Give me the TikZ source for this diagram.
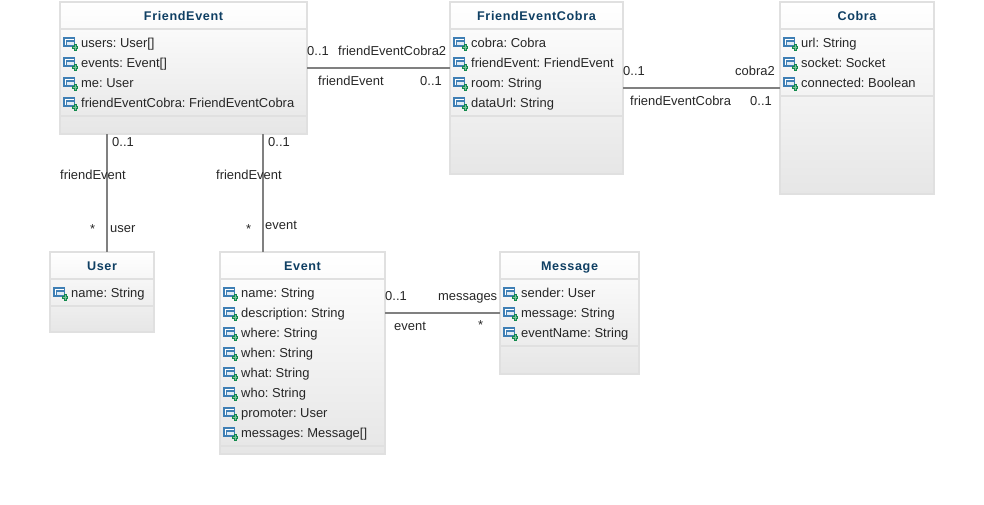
\documentclass[tikz,border=0pt]{standalone}
\usepackage{fontspec}
\setmainfont{Liberation Sans}
\newfontfamily\titlefont[LetterSpace=5]{Liberation Sans}
\definecolor{boxline}{HTML}{E0E0E0}
\definecolor{boxlow}{HTML}{E6E6E6}
\definecolor{titleblue}{HTML}{0F3F63}
\definecolor{iconblue}{HTML}{3F7FB5}
\definecolor{icongreen}{HTML}{128A4C}
\definecolor{assocline}{HTML}{808080}
\tikzset{
  classbox/.style={draw=boxline,line width=2pt,anchor=north west,inner sep=0pt,outer sep=0pt,top color=white,bottom color=boxlow},
  classtitle/.style={font=\titlefont\fontsize{12.6}{14}\selectfont\bfseries,text=titleblue,inner sep=0pt,anchor=base},
  attr/.style={font=\frenchspacing\fontsize{12.95}{14}\selectfont,anchor=base west,inner sep=0pt,text=black!85},
  assoc/.style={font=\fontsize{12.95}{14}\selectfont,anchor=base west,inner sep=0pt,text=black!85},
  divider/.style={draw=boxline,line width=2pt},
  link/.style={draw=assocline,line width=2pt},
  attricon/.pic={
    \draw[iconblue,fill=white,line width=1.2pt] (-7,-5) rectangle (3.5,3);
    \draw[iconblue,fill=iconblue!15,line width=1.2pt] (-4.5,-2) rectangle (3.5,3);
    \draw[icongreen,line width=3pt] (4,1) -- (4,7.5) (0.75,4.25) -- (7.25,4.25);
    \draw[icongreen!55,line width=1pt] (4,2) -- (4,6.5) (1.75,4.25) -- (6.25,4.25);
  }
}
% id, x, y, width, height, y of second divider, title, attributes
\newcommand{\umlclass}[8]{
  \node[classbox,minimum width=#4pt,minimum height=#5pt] (#1) at (#2,#3) {};
  \draw[divider] (#2,#3+27) -- ++(#4,0);
  \draw[divider] (#2,#6) -- ++(#4,0);
  \node[classtitle] (#1-title) at (#2+#4/2,#3+18.5) {#7};
  \foreach \attrtext [count=\i] in {#8} {
    \pic at (#2+11,#3+21+20*\i) {attricon};
    \node[attr] (#1-\i) at (#2+21,#3+25+20*\i) {\attrtext};
  }
}
\begin{document}
\begin{tikzpicture}[x=1pt,y=-1pt]
  \useasboundingbox (0,0) rectangle (984,504);

  \umlclass{friendEvent}{60}{2}{247}{132}{116}{FriendEvent}{users: User[],events: Event[],me: User,friendEventCobra: FriendEventCobra}
  \umlclass{friendEventCobra}{450}{2}{173}{172}{116}{FriendEventCobra}{cobra: Cobra,friendEvent: FriendEvent,room: String,dataUrl: String}
  \umlclass{cobra}{780}{2}{154}{192}{96}{Cobra}{url: String,socket: Socket,connected: Boolean}
  \umlclass{user}{50}{252}{104}{80}{306}{User}{name: String}
  \umlclass{event}{220}{252}{165}{202}{446}{Event}{name: String,description: String,where: String,when: String,what: String,who: String,promoter: User,messages: Message[]}
  \umlclass{message}{500}{252}{139}{122}{346}{Message}{sender: User,message: String,eventName: String}

  \draw[link] (friendEvent.east) -- (friendEventCobra.west |- friendEvent.east);
  \draw[link] (friendEventCobra.east) -- (cobra.west |- friendEventCobra.east);
  \draw[link] ([xshift=47pt]friendEvent.south west) -- ([xshift=57pt]user.north west);
  \draw[link] ([xshift=203pt]friendEvent.south west) -- ([xshift=43pt]event.north west);
  \draw[link] (event.east |- message.west) -- (message.west);

  \node[assoc] (lblA) at (307,55) {0..1};
  \node[assoc] (lblB) at (338,55) {friendEventCobra2};
  \node[assoc] (lblC) at (318,85) {friendEvent};
  \node[assoc] (lblD) at (420,85) {0..1};
  \node[assoc] (lblE) at (623,75) {0..1};
  \node[assoc] (lblF) at (735,75) {cobra2};
  \node[assoc] (lblG) at (630,105) {friendEventCobra};
  \node[assoc] (lblH) at (750,105) {0..1};
  \node[assoc] (lblI) at (112,146) {0..1};
  \node[assoc] (lblJ) at (60,179) {friendEvent};
  \node[assoc] (lblK) at (90,233) {*};
  \node[assoc] (lblL) at (110,232) {user};
  \node[assoc] (lblM) at (268,146) {0..1};
  \node[assoc] (lblN) at (216,179) {friendEvent};
  \node[assoc] (lblO) at (246,233) {*};
  \node[assoc] (lblP) at (265,229) {event};
  \node[assoc] (lblQ) at (385,300) {0..1};
  \node[assoc] (lblR) at (438,300) {messages};
  \node[assoc] (lblS) at (394,330) {event};
  \node[assoc] (lblT) at (478,329) {*};
\end{tikzpicture}
\end{document}
